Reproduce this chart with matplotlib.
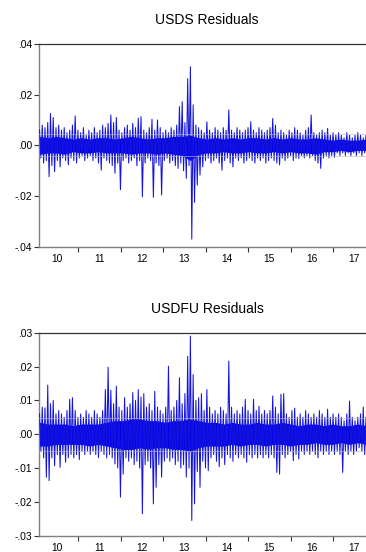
import numpy as np
import matplotlib
matplotlib.use("Agg")
import matplotlib.pyplot as plt

plt.rcParams['font.family'] = ['Liberation Sans', 'DejaVu Sans']

# ---- data (residuals in units of 0.001), column envelopes ----
usds_hi = [6, 8, 7, 9, 12.6, 11, 7, 8, 6, 7, 5, 6, 8, 11.6, 6, 5, 7, 4, 6, 5,
           7, 5, 6, 8, 7, 8.7, 12, 9, 11, 6, 5, 7, 8, 6, 8.7, 7, 10.7, 11.3, 6, 5,
           7, 10.3, 6, 10, 7, 5, 6, 5, 7, 6, 8, 15.3, 17.2, 9, 26.3, 31, 16, 8, 7, 6,
           5, 9.3, 6, 5, 7, 6, 5, 7, 6, 14, 6, 5, 7, 6, 5, 6, 7, 9.3, 6, 5,
           7, 6, 5, 6, 7, 10.6, 8, 5, 6, 5, 4, 6, 5, 7, 6, 5, 4, 6, 7, 12,
           5, 4, 5, 6, 5, 6.7, 4, 5, 4, 5, 4, 3, 5, 4, 3, 4, 5, 4, 3, 4]
usds_lo = [-5, -7, -6, -12.4, -8, -10.4, -6, -8.5, -5, -6, -7.7, -5, -6, -7, -5, -4, -6, -5, -4, -6,
           -5, -7, -9.8, -5, -6, -7, -8, -11, -7, -17.5, -6, -5, -7, -6, -5, -8, -6, -20.3, -7, -5,
           -6, -20.5, -7, -8, -19.6, -6, -5, -7, -6, -8, -9.1, -7, -10, -13, -8, -37, -22.5, -15.7, -11.7, -8.5,
           -6, -5, -7, -6, -5, -7, -9.8, -6, -5, -7, -8.5, -5, -6, -5, -7, -6, -5, -6, -7, -5,
           -6, -5, -7, -6, -5, -6, -7, -7.7, -5, -6, -5, -4, -6, -5, -5.2, -4, -5, -4, -5, -4,
           -6, -7, -9.1, -5, -4, -5, -4, -4.7, -3, -4, -3, -4, -3, -4, -3, -4, -3, -4, -3, -4]
usdfu_hi = [6, 8, 7.8, 14.5, 9, 10, 6, 7, 6, 5, 7, 10.3, 10.8, 7, 5, 6, 5, 7, 6, 5,
            7, 6, 5, 7, 13.2, 19.8, 13, 9, 14.2, 8, 7, 10.8, 8, 9, 12.3, 10, 13.2, 11, 12, 8,
            9, 7, 12.7, 8, 7, 6, 8, 20.1, 7, 8, 10, 16.7, 9, 12, 23, 29, 17.6, 10, 10.8, 12,
            7, 13.2, 8, 6, 7, 6, 8, 7, 6, 21.6, 8, 6, 7, 6, 8, 10.3, 7, 6, 10.3, 7,
            8.3, 6, 7, 6, 7, 11.3, 8, 6, 11.8, 12, 6, 5, 7, 7.7, 5, 6, 5, 7, 6, 5,
            6, 5, 7, 6, 5, 7.4, 5, 6, 5, 6, 5, 4, 6, 9.8, 5, 4, 5, 6, 8, 5]
usdfu_lo = [-5, -7, -12.7, -13.7, -7, -9.3, -6, -9.8, -6, -8.3, -7, -6, -7, -6, -7.5, -5, -6, -5, -6, -5,
            -6, -6.9, -5, -6, -7, -6, -7, -8.8, -10, -18.6, -11.8, -7, -8, -7, -9, -8, -10, -23.5, -9, -8,
            -10, -20.6, -15.7, -9, -12.7, -8, -7, -8, -7, -9, -8, -10, -9, -12.7, -10, -25.5, -20.6, -11, -15.7, -8,
            -10, -10.8, -7, -6, -8, -9.6, -7, -9, -6, -7, -8, -6, -7, -6, -7, -8.3, -6, -7, -6, -7,
            -6, -7, -6, -7, -6, -7, -11.3, -11.8, -6, -7, -6, -5, -7.8, -6, -7.3, -5, -6, -5, -6, -5,
            -6, -7, -5, -6, -5, -6, -5, -6, -5, -6, -11.3, -5, -6, -5, -6, -5, -4, -5, -6, -9.3]

# dense core of the residual mass (40 readings across the sample)
usds_core_hi = [3.5, 3, 3.5, 3, 2.5, 3, 2.5, 3, 3, 2.5, 3, 3.5, 3, 2.5, 3, 3, 3.5, 3.5, 4, 3,
                2.5, 3, 2.5, 3, 2.5, 3, 3, 2.5, 3, 2.5, 3, 2.5, 2.5, 3, 2.5, 2, 2.5, 2, 2, 2.5]
usds_core_lo = [-3.5, -3, -3, -3.5, -2.5, -3, -3, -2.5, -3, -3, -3, -3.5, -3, -3, -3.5, -3, -3.5, -4, -6, -3.5,
                -3, -3, -2.5, -3, -3, -2.5, -3, -3, -2.5, -3, -2.5, -3, -3, -3.5, -2.5, -2.5, -2, -2.5, -2, -2]
usdfu_core_hi = [3.5, 3, 3, 3, 2.5, 3, 3, 3, 3.5, 4, 4, 4.5, 4.5, 4, 4, 3.5, 4, 4, 4.5, 4,
                 3.5, 3.5, 3, 3.5, 3, 3, 3.5, 3, 3, 3.5, 3, 2.5, 3, 3, 2.5, 3, 2.5, 2.5, 3, 2.5]
usdfu_core_lo = [-3.5, -3.5, -3, -3, -3, -3, -3.5, -3, -3.5, -4, -4.5, -4.5, -4, -4.5, -4, -4, -4.5, -4.5, -5, -4,
                 -3.5, -3.5, -3.5, -3, -3.5, -3, -3, -3.5, -3, -3, -3.5, -3, -3, -2.5, -3, -3, -2.5, -3, -2.5, -3]

usds_se = 4.3
usdfu_se = 4.9

titles = ["USDS Residuals", "USDFU Residuals"]
usds_yticks = [0.04, 0.02, 0.0, -0.02, -0.04]
usds_ylabels = [".04", ".02", ".00", "-.02", "-.04"]
usdfu_yticks = [0.03, 0.02, 0.01, 0.0, -0.01, -0.02, -0.03]
usdfu_ylabels = [".03", ".02", ".01", ".00", "-.01", "-.02", "-.03"]
year_labels = ["10", "11", "12", "13", "14", "15", "16", "17"]

# ---- layout ----
W, H = 366, 552
fig = plt.figure(figsize=(W / 100, H / 100), dpi=100)

def frac_axes(top_px, bottom_px, left_px=39, right_px=366):
    return fig.add_axes([left_px / W, 1 - bottom_px / H,
                         (right_px - left_px) / W, (bottom_px - top_px) / H])

ax1 = frac_axes(44, 246.7)
ax2 = frac_axes(332.7, 535.7)

x0, x1 = 2010.082, 2017.776

def draw(ax, hi, lo, chi, clo, se, yticks, ylabels, ylim, title, title_y):
    n = len(hi)
    xc = np.linspace(2010.094, 2017.776, n)
    step = xc[1] - xc[0]
    xs = np.empty(2 * n)
    ys = np.empty(2 * n)
    xs[0::2] = xc
    xs[1::2] = xc + step / 2
    ys[0::2] = np.array(hi) * 1e-3
    ys[1::2] = np.array(lo) * 1e-3
    xk = np.linspace(2010.094, 2017.776, len(chi))
    ax.fill_between(xk, np.array(clo) * 1e-3, np.array(chi) * 1e-3,
                    color="#0000ee", lw=0, zorder=2)
    ax.plot(xs, ys, color="#1414dc", lw=0.75, zorder=3)
    for s in (se, -se):
        ax.axhline(s * 1e-3, color="#b8b8b8", lw=0.7, alpha=0.6, zorder=4)
    ax.set_xlim(x0, x1)
    ax.set_ylim(*ylim)
    ax.set_yticks(yticks)
    ax.set_yticklabels(ylabels)
    ax.set_xticks(range(2011, 2018))
    ax.set_xticklabels([])
    ax.set_xticks([y + 0.5 for y in range(2010, 2018)], minor=True)
    ax.set_xticklabels(year_labels, minor=True)
    ax.tick_params(axis="x", which="major", length=3.5, width=0.8, color="#333333", direction="out")
    ax.tick_params(axis="x", which="minor", length=0, pad=5, labelsize=7.4)
    ax.tick_params(axis="y", length=3.5, width=0.8, color="#333333", pad=1.5, labelsize=7.4)
    ax.spines["right"].set_visible(False)
    for sp in ("left", "bottom"):
        ax.spines[sp].set_color("#808080")
        ax.spines[sp].set_linewidth(1.0)
    ax.spines["top"].set_color("#333333")
    ax.spines["top"].set_linewidth(0.9)
    fig.text(207 / W, 1 - title_y / H, title, ha="center", va="center", fontsize=10)

draw(ax1, usds_hi, usds_lo, usds_core_hi, usds_core_lo, usds_se,
     usds_yticks, usds_ylabels, (-0.04, 0.04), titles[0], 20)
draw(ax2, usdfu_hi, usdfu_lo, usdfu_core_hi, usdfu_core_lo, usdfu_se,
     usdfu_yticks, usdfu_ylabels, (-0.03, 0.03), titles[1], 309)

fig.savefig("out.png", dpi=100)
